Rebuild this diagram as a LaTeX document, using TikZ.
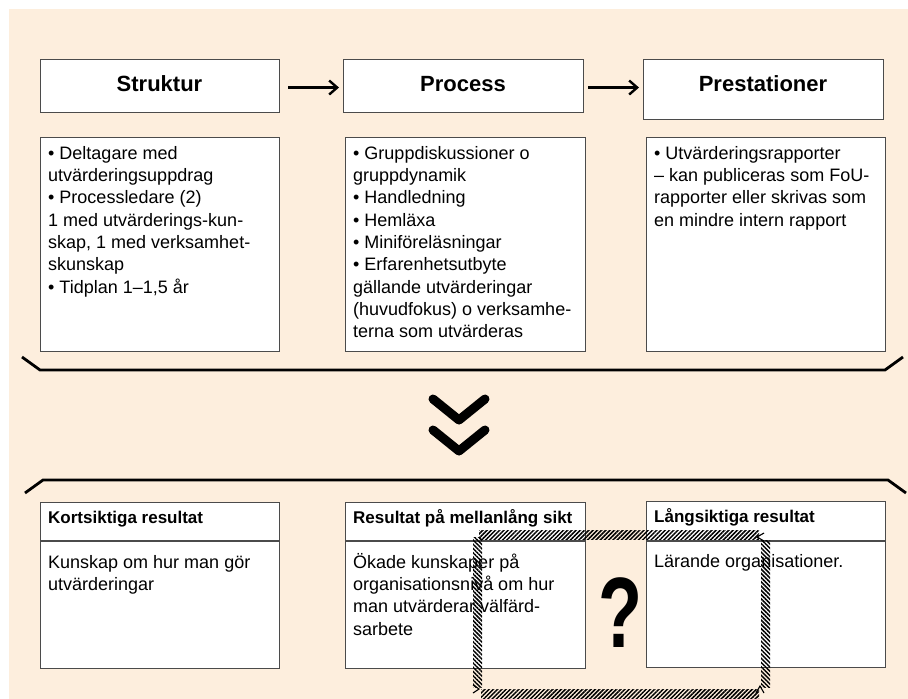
\documentclass[tikz,border=0pt]{standalone}
\usepackage{fontspec}
\setmainfont{Liberation Sans}
\usetikzlibrary{arrows.meta,patterns.meta}
\definecolor{peach}{RGB}{253,238,221}
\definecolor{boxline}{RGB}{75,75,75}
\begin{document}
\begin{tikzpicture}[x=1pt,y=-1pt,
  box/.style={draw=boxline,line width=1.1pt,fill=white,inner sep=0pt,anchor=north west},
  title/.style={font=\fontsize{22}{26}\selectfont\bfseries,inner sep=0pt},
  body/.style={font=\fontsize{18}{22.3}\selectfont,align=left,inner sep=0pt,anchor=north west},
  head/.style={font=\fontsize{17}{20}\selectfont\bfseries,inner sep=0pt,anchor=base west},
  divider/.style={draw=boxline,line width=1.1pt},
  flow/.style={line width=2.4pt,-{Straight Barb[length=8pt,width=14pt,line width=2.4pt]}},
  bracket/.style={line width=2.8pt,line join=miter},
  chev/.style={line width=9pt,line cap=round,line join=round},
  hatchH/.style={pattern={Lines[angle=45,distance=3pt,line width=1.5pt]}},
  hatchV/.style={pattern={Lines[angle=-45,distance=3pt,line width=1.5pt]}},
  looptip/.style={line width=1.1pt}
]
\useasboundingbox (0,0) rectangle (908,699);
\fill[peach] (9,9) rectangle (908,699);

% top row
\node[box,minimum width=239,minimum height=53] (sbox) at (40,59) {};
\node[box,minimum width=240,minimum height=53] (pbox) at (343,59) {};
\node[box,minimum width=240,minimum height=60] (rbox) at (643,59) {};
\node[title] (stitle) at (159.5,84) {Struktur};
\node[title] (ptitle) at (463,84) {Process};
\node[title] (rtitle) at (763,84) {Prestationer};

\coordinate (a2) at (pbox.east -| rbox.west);
\draw[flow] ([xshift=8pt,yshift=-1.5pt]sbox.east) -- ([xshift=-4pt,yshift=-1.5pt]pbox.west);
\draw[flow] ([xshift=4pt,yshift=-1.5pt]pbox.east) -- ([xshift=-4pt,yshift=-1.5pt]a2);

% content boxes
\node[box,minimum width=239,minimum height=214] (sc) at (40,137) {};
\node[box,minimum width=240,minimum height=214] (pc) at (345,137) {};
\node[box,minimum width=239,minimum height=214] (rc) at (646,137) {};

\node[body] (st) at ([xshift=8pt,yshift=-6.4pt]sc.north west)
 {\strut• Deltagare med\\utvärderingsuppdrag\\• Processledare (2)\\1 med utvärderings-kun-\\skap, 1 med verksamhet-\\skunskap\\• Tidplan 1–1,5 år};
\node[body] (pt) at ([xshift=8pt,yshift=-6.4pt]pc.north west)
 {\strut• Gruppdiskussioner o\\gruppdynamik\\• Handledning\\• Hemläxa\\• Miniföreläsningar\\• Erfarenhetsutbyte\\gällande utvärderingar\\(huvudfokus) o verksamhe-\\terna som utvärderas};
\node[body] (rt) at ([xshift=8pt,yshift=-6.4pt]rc.north west)
 {\strut• Utvärderingsrapporter\\– kan publiceras som FoU-\\rapporter eller skrivas som\\en mindre intern rapport};

% brackets
\draw[bracket] (22,357) -- (40,370) -- (885,370) -- (903,357);
\draw[bracket] (25,493) -- (43,480) -- (888,480) -- (906,493);

% chevrons
\draw[chev] (433,399) -- (459,420) -- (485,399);
\draw[chev] (433,430) -- (459,451) -- (485,430);

% bottom row
\node[box,minimum width=239,minimum height=166] (kb) at (40,502) {};
\node[box,minimum width=240,minimum height=166] (mb) at (345,502) {};
\node[box,minimum width=239,minimum height=166] (lb) at (646,501) {};
\draw[divider] ([yshift=-39pt]kb.north west) -- ([yshift=-39pt]kb.north east);
\draw[divider] ([yshift=-39pt]mb.north west) -- ([yshift=-39pt]mb.north east);
\draw[divider] ([yshift=-40pt]lb.north west) -- ([yshift=-40pt]lb.north east);

\node[head] (kh) at ([xshift=8pt,yshift=-21pt]kb.north west) {Kortsiktiga resultat};
\node[head] (mh) at ([xshift=8pt,yshift=-21pt]mb.north west) {Resultat på mellanlång sikt};
\node[head] (lh) at ([xshift=8pt,yshift=-21pt]lb.north west) {Långsiktiga resultat};

\node[body] (kt) at ([xshift=8pt,yshift=-50.4pt]kb.north west)
 {\strut Kunskap om hur man gör\\utvärderingar};
\node[body] (mt) at ([xshift=8pt,yshift=-50.4pt]mb.north west)
 {\strut Ökade kunskaper på\\organisationsnivå om hur\\man utvärderar välfärd-\\sarbete};
\node[body] (lt) at ([xshift=8pt,yshift=-50.4pt]lb.north west)
 {\strut Lärande organisationer.};

% question mark
\node[font=\fontsize{100}{100}\selectfont\bfseries,inner sep=0pt] (qm) at (620,612.5) {\scalebox{0.72}[1]{?}};

% hatched loop
\fill[hatchH] (479,530) rectangle (759,539);
\fill[hatchV] (473,537) rectangle (482,687);
\fill[hatchV] (761,540) rectangle (770,687);
\fill[hatchH] (481,689) rectangle (759,698);
\draw[looptip] (764,533) -- (757,537) -- (764,541);
\draw[looptip] (756,693) -- (760,686) -- (764,693);
\draw[looptip] (473,685) -- (479,689) -- (473,693);
\end{tikzpicture}
\end{document}
